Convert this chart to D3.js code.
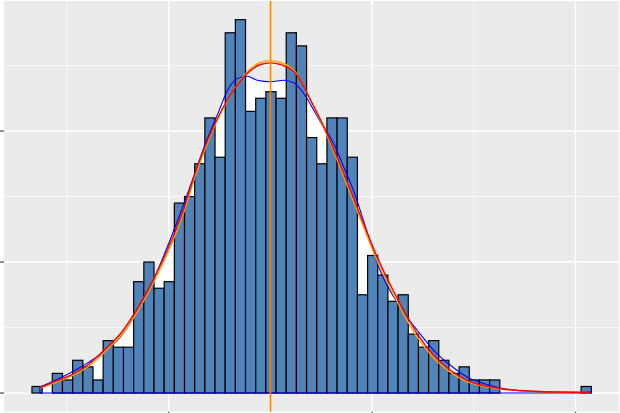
<!DOCTYPE html>
<html>
<head>
<meta charset="utf-8"/>
<script src="https://cdn.jsdelivr.net/npm/d3@7"></script>
<title>Histogram with density curves</title>
<style>
body { margin: 0; background: #ffffff; }
svg { display: block; }
</style>
</head>
<body>
<script>
// histogram counts, 55 bins of width 0.1
var binStart = -2.345;
var binWidth = 0.1;
var counts = [1,0,3,2,5,4,2,8,7,7,17,20,16,17,29,30,35,42,36,55,57,43,45,46,45,55,53,39,35,42,42,36,15,21,18,14,15,9,7,8,5,3,4,2,2,2,0,0,0,0,0,0,0,0,1];

// kernel density (blue), scaled to counts
var kdeX = [-2.267,-2.047,-1.835,-1.639,-1.474,-1.343,-1.212,-1.081,-0.950,-0.835,-0.754,-0.656,-0.508,-0.426,-0.327,-0.229,-0.131,0,0.131,0.229,0.327,0.426,0.491,0.622,0.720,0.819,0.950,1.081,1.212,1.310,1.442,1.605,1.769,1.933,2.097,2.260,2.457,2.752,2.948,3.145];
var kdeY = [0.93,2.46,4.24,6.27,8.56,11.62,15.19,19.77,24.85,29.60,33.10,37.40,43.00,46.10,48.00,48.37,47.76,47.53,47.76,47.37,45.73,43.18,41.39,38.09,34.52,30.80,24.60,18.60,14.67,12.30,9.59,6.53,4.24,2.46,1.45,0.78,0.35,0.15,0.12,0.15];

// normal curve (red)
var normX = [-2.265,-2.130,-1.966,-1.801,-1.638,-1.474,-1.310,-1.147,-1.015,-0.858,-0.754,-0.590,-0.426,-0.263,-0.098,0,0.098,0.262,0.393,0.541,0.639,0.852,1.049,1.310,1.442,1.605,1.769,1.933,2.260,2.585,3.145];
var normY = [0.81,1.69,2.72,4.24,6.53,9.08,12.90,17.48,21.80,27.91,32.99,39.62,44.70,48.26,50.15,50.40,50.15,48.52,44.78,40.12,36.61,28.37,20.78,12.64,9.08,5.77,3.48,1.95,0.69,0.27,0.08];

// second normal curve (orange), a little narrower
var norm2X = [-2.265,-2.098,-1.937,-1.774,-1.613,-1.452,-1.290,-1.130,-1.000,-0.845,-0.743,-0.581,-0.420,-0.259,-0.097,0,0.097,0.258,0.387,0.533,0.629,0.839,1.033,1.290,1.420,1.581,1.742,1.904,2.226,2.546,3.145];
var norm2Y = [0.75,1.69,2.72,4.24,6.53,9.08,12.90,17.48,21.80,27.91,32.99,39.62,44.80,48.50,50.50,50.75,50.50,48.75,44.90,40.12,36.61,28.37,20.78,12.64,9.08,5.77,3.48,1.95,0.69,0.27,0.06];

var meanX = 0;

var xMajor = [-1, 1, 3];
var xMinor = [-2, 0, 2];
var yMajor = [0, 20, 40];
var yMinor = [10, 30, 50];

var W = 620, H = 413;
var padL = 4, padR = 619.3, padT = 1, padB = 411.7;

var x = d3.scaleLinear().domain([-2.62, 3.43]).range([padL, padR]);
var y = d3.scaleLinear().domain([-2.85, 59.85]).range([padB, padT]);

var svg = d3.select("body").append("svg")
	.attr("width", W)
	.attr("height", H);

// panel
svg.append("rect")
	.attr("x", padL).attr("y", padT)
	.attr("width", padR - padL).attr("height", padB - padT)
	.attr("fill", "#ebebeb");

var grid = svg.append("g");
grid.selectAll(".xmin").data(xMinor).enter().append("line")
	.attr("x1", d => x(d)).attr("x2", d => x(d))
	.attr("y1", padT).attr("y2", padB)
	.attr("stroke", "#fff").attr("stroke-width", 0.7);
grid.selectAll(".ymin").data(yMinor).enter().append("line")
	.attr("x1", padL).attr("x2", padR)
	.attr("y1", d => y(d)).attr("y2", d => y(d))
	.attr("stroke", "#fff").attr("stroke-width", 0.7);
grid.selectAll(".xmaj").data(xMajor).enter().append("line")
	.attr("x1", d => x(d)).attr("x2", d => x(d))
	.attr("y1", padT).attr("y2", padB)
	.attr("stroke", "#fff").attr("stroke-width", 1.4);
grid.selectAll(".ymaj").data(yMajor).enter().append("line")
	.attr("x1", padL).attr("x2", padR)
	.attr("y1", d => y(d)).attr("y2", d => y(d))
	.attr("stroke", "#fff").attr("stroke-width", 1.4);

var kde = kdeX.map((d, i) => [d, kdeY[i]]);
var norm = normX.map((d, i) => [d, normY[i]]);
var norm2 = norm2X.map((d, i) => [d, norm2Y[i]]);

var area = d3.area()
	.x(d => x(d[0])).y0(y(0)).y1(d => y(d[1]))
	.curve(d3.curveMonotoneX);
var line = d3.line()
	.x(d => x(d[0])).y(d => y(d[1]))
	.curve(d3.curveMonotoneX);

// white density area behind the bars
svg.append("path")
	.attr("d", area(kde))
	.attr("fill", "#fff");

// bars
var bins = counts.map((c, i) => ({x0: binStart + i * binWidth, x1: binStart + (i + 1) * binWidth, n: c}))
	.filter(d => d.n > 0);
svg.append("g").selectAll("rect").data(bins).enter().append("rect")
	.attr("x", d => x(d.x0))
	.attr("width", d => x(d.x1) - x(d.x0))
	.attr("y", d => y(d.n))
	.attr("height", d => y(0) - y(d.n))
	.attr("fill", "#5083b7")
	.attr("stroke", "#000")
	.attr("stroke-width", 1.2);

// density outline, closed along the baseline
svg.append("path")
	.attr("d", area(kde))
	.attr("fill", "none")
	.attr("stroke", "#0000ff")
	.attr("stroke-width", 1.1);

svg.append("path")
	.attr("d", line(norm2))
	.attr("fill", "none")
	.attr("stroke", "orange")
	.attr("stroke-width", 1.4);

svg.append("path")
	.attr("d", line(norm))
	.attr("fill", "none")
	.attr("stroke", "red")
	.attr("stroke-width", 1.4);

svg.append("line")
	.attr("x1", x(meanX)).attr("x2", x(meanX))
	.attr("y1", padT).attr("y2", padB)
	.attr("stroke", "#ff8000")
	.attr("stroke-width", 1.4);

// axis ticks (labels fall outside the picture)
svg.append("g").selectAll("line").data(yMajor).enter().append("line")
	.attr("x1", 0).attr("x2", padL)
	.attr("y1", d => y(d)).attr("y2", d => y(d))
	.attr("stroke", "#333").attr("stroke-width", 1.1);
svg.append("g").selectAll("line").data(xMajor).enter().append("line")
	.attr("x1", d => x(d)).attr("x2", d => x(d))
	.attr("y1", padB).attr("y2", H)
	.attr("stroke", "#333").attr("stroke-width", 1.1);
</script>
</body>
</html>
